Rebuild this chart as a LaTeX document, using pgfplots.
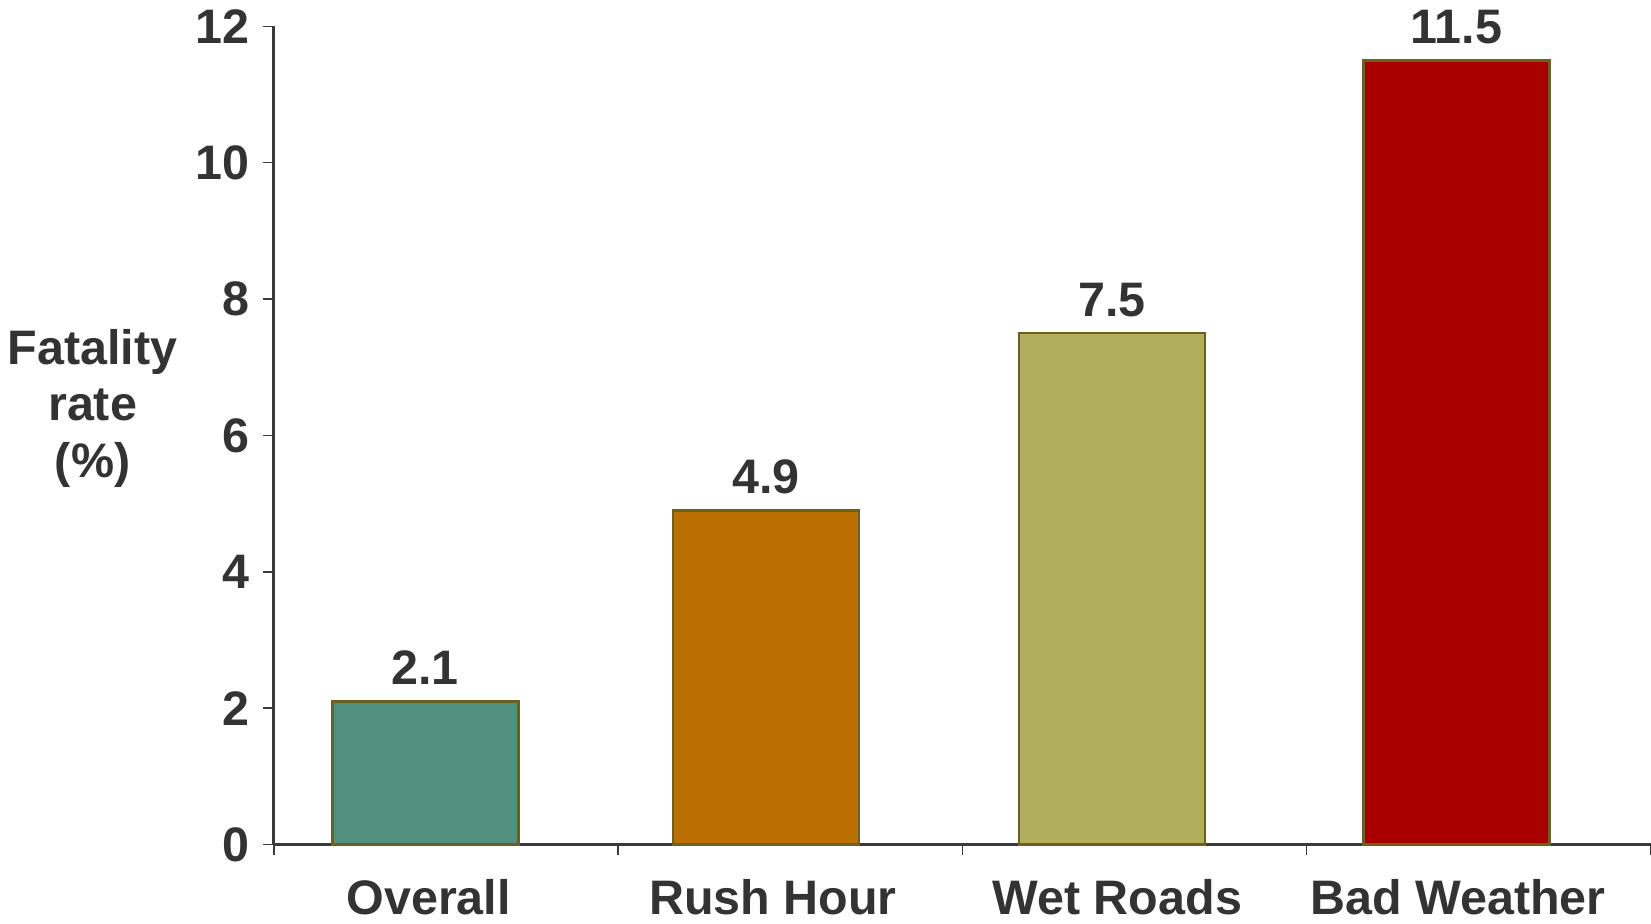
\documentclass[border=0pt]{standalone}
\usepackage{fontspec}
\setmainfont{Liberation Sans}
\usepackage{pgfplots}
\pgfplotsset{compat=1.18}
\definecolor{txt}{HTML}{333333}
\definecolor{axiscol}{HTML}{3A3A3A}
\definecolor{edge}{HTML}{6E5E22}
\definecolor{cOverall}{HTML}{518F7E}
\definecolor{cRush}{HTML}{BB6F00}
\definecolor{cWet}{HTML}{B2AE60}
\definecolor{cBad}{HTML}{A80000}
\newcommand{\chartfont}{\fontsize{46bp}{54bp}\selectfont\bfseries}

\begin{document}
\begin{tikzpicture}
\begin{axis}[
    at={(0,0)}, anchor=south west,
    scale only axis, width=1308bp, height=777bp,
    xmin=0, xmax=4, ymin=0, ymax=12,
    axis x line*=bottom, axis y line*=left,
    axis line style={-, draw=axiscol, line width=2.5bp},
    ybar, bar width=0.54, bar shift=0pt,
    ytick={0,2,...,12},
    xtick={0.45,1.45,2.45,3.44},
    xticklabels={Overall, Rush Hour, Wet Roads, Bad Weather},
    minor xtick={0,1,2,3,4},
    every major x tick/.append style={draw=none},
    tick align=outside,
    major tick length=10bp, minor tick length=10bp,
    tick style={draw=axiscol, line width=1.5bp},
    /pgf/number format/assume math mode=true,
    tick label style={font=\chartfont, text=txt},
    xticklabel style={yshift=-20bp},
    yticklabel style={xshift=-10bp},
    ylabel={Fatality\\rate\\(\%)},
    ylabel style={align=center, rotate=-90, anchor=center, font=\chartfont, text=txt,
        at={(axis description cs:-0.1315,0.533)}},
    nodes near coords,
    every node near coord/.append style={font=\chartfont, text=txt, yshift=11bp},
    clip=false,
]
\addplot[fill=cOverall, draw=edge, line width=2.5bp] coordinates {(0.44,2.1)};
\addplot[fill=cRush, draw=edge, line width=2.5bp] coordinates {(1.43,4.9)};
\addplot[fill=cWet, draw=edge, line width=2.5bp] coordinates {(2.435,7.5)};
\addplot[fill=cBad, draw=edge, line width=2.5bp] coordinates {(3.435,11.5)};
\end{axis}
\pgfresetboundingbox
\useasboundingbox (-260bp,-75bp) rectangle (1308bp,802bp);
\end{tikzpicture}
\end{document}
